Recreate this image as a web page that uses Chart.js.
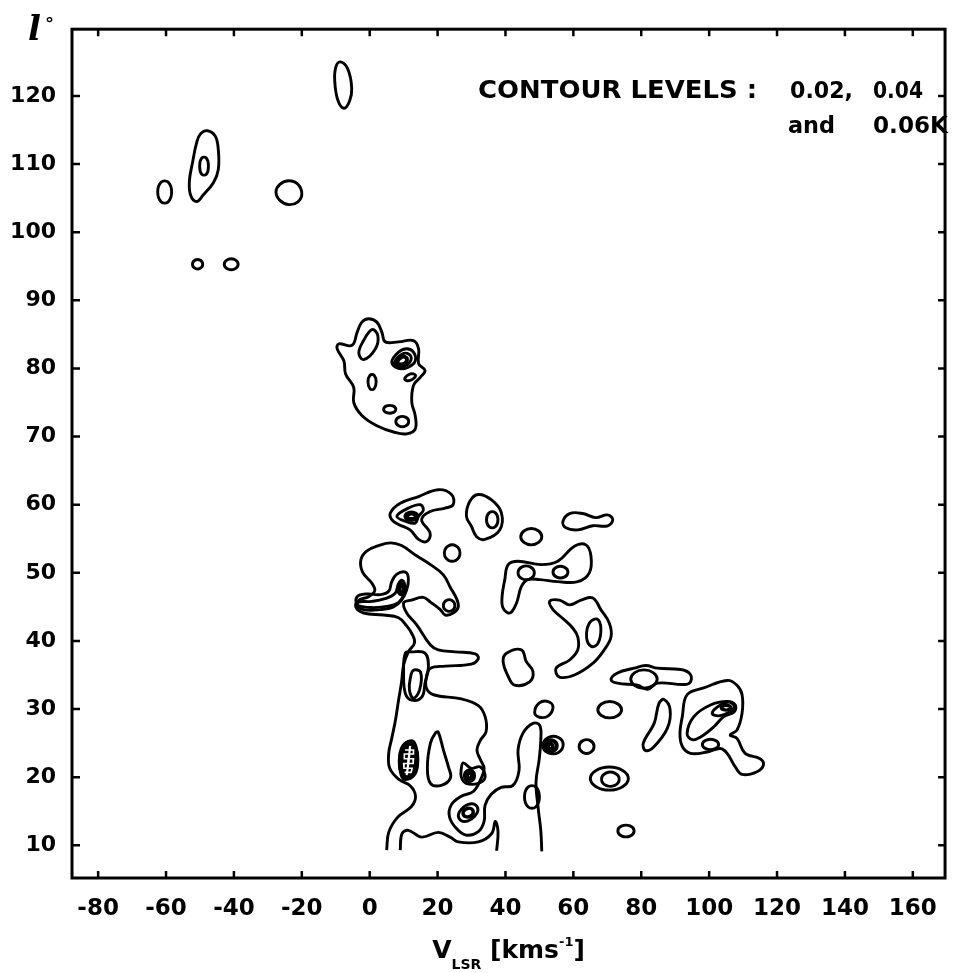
<!DOCTYPE html>
<html>
<head>
<meta charset="utf-8">
<script src="https://cdn.jsdelivr.net/npm/chart.js@4.4.1/dist/chart.umd.min.js"></script>
<style>
html, body { margin: 0; padding: 0; background: #fff; }
</style>
</head>
<body>
<canvas id="c" width="954" height="973"></canvas>
<script>
// ===== axes =====
const V_TICKS = [-80, -60, -40, -20, 0, 20, 40, 60, 80, 100, 120, 140, 160];
const L_TICKS = [10, 20, 30, 40, 50, 60, 70, 80, 90, 100, 110, 120];
const V_RANGE = [-87.7, 169.5];
const L_RANGE = [5.2, 129.8];

// ===== contours, [v, l] =====
const topLoop = [[-8.7,125.0],[-6.5,124.0],[-5.3,121.2],[-5.9,119.3],[-7.6,118.2],[-9.4,119.4],[-10.3,122.2],[-10.0,124.2]];
const farLeftLoop = [[-58.35,105.9],[-59.4,107.36],[-61.4,107.36],[-62.45,105.9],[-61.4,104.44],[-59.4,104.44]];
const pairOuter = [[-47.8,114.9],[-45.5,114.1],[-44.6,112.1],[-44.6,109.2],[-46.0,107.3],[-49.0,105.5],[-51.0,104.5],[-52.8,105.5],[-53.1,107.6],[-52.2,110.2],[-51.0,113.1],[-49.9,114.4]];
const pairInner = [[-47.5,109.7],[-48.15,110.9],[-49.45,110.9],[-50.1,109.7],[-49.45,108.5],[-48.15,108.5]];
const roundLoop = [[-20.0,105.6],[-21.14,107.03],[-23.8,107.55],[-26.46,107.03],[-27.6,105.9],[-26.46,104.67],[-23.8,104.05],[-21.14,104.47]];
const dotA = [[-49.2,95.3],[-49.95,95.9],[-51.45,95.9],[-52.2,95.3],[-51.45,94.7],[-49.95,94.7]];
const dotB = [[-38.75,95.3],[-39.8,96.0],[-41.8,96.0],[-42.85,95.3],[-41.8,94.6],[-39.8,94.6]];

const c80Outer = [[-0.3,87.3],[2.1,86.8],[3.6,85.3],[4.6,83.9],[8.5,83.9],[12.9,84.1],[14.4,82.9],[14.4,80.7],[16.3,79.7],[14.9,78.7],[12.9,77.5],[12.4,75.0],[13.4,73.1],[13.4,71.1],[10.9,70.4],[7.5,70.6],[2.1,71.6],[-2.3,73.1],[-4.7,75.0],[-4.7,77.2],[-7.1,79.2],[-7.6,81.1],[-9.6,82.9],[-9.1,83.6],[-5.2,83.4],[-3.7,85.3],[-2.3,86.8]];
const c80Inner = [[0.7,85.7],[2.4,84.8],[1.7,82.9],[-1.8,81.3],[-3.2,82.3],[-1.8,84.1]];
const c80RingA = [[6.5,80.9],[8.5,82.4],[10.9,82.9],[12.9,82.4],[13.4,81.1],[11.4,80.2],[8.5,80.0]];
const c80RingB = [[7.3,80.9],[9.5,82.1],[11.6,82.1],[12.2,81.3],[10.5,80.4],[8.0,80.4]];
const c80RingC = [[8.0,80.9],[9.5,81.7],[10.9,81.5],[10.5,80.8],[8.8,80.6]];
const c80DotA = [[10.3,78.5],[12.0,79.2],[13.5,79.0],[12.6,78.4],[11.1,78.2]];
const c80DotB = [[1.9,78.0],[1.3,79.0],[0.1,79.0],[-0.5,78.0],[0.1,77.0],[1.3,77.0]];
const c80DotC = [[7.7,74.0],[6.8,74.5],[5.0,74.5],[4.1,74.0],[5.0,73.5],[6.8,73.5]];
const c80DotD = [[11.5,72.2],[10.55,72.85],[8.65,72.85],[7.7,72.2],[8.65,71.55],[10.55,71.55]];

const c60Outer = [[6.1,58.8],[9.0,60.2],[14.4,61.2],[20.2,62.2],[24.1,61.5],[24.6,60.0],[22.2,59.5],[17.8,59.0],[15.3,57.8],[17.8,55.8],[16.8,54.6],[14.4,54.9],[11.9,56.3],[8.5,57.1],[6.5,57.8]];
const c60Mid = [[8.0,58.3],[11.4,59.5],[14.9,60.0],[15.8,59.2],[14.4,58.3],[13.4,57.3],[10.9,57.5]];
const c60Core = [[13.9,58.3],[13.1,58.7],[11.5,58.7],[10.7,58.3],[11.5,57.9],[13.1,57.9]];
const c58Outer = [[32.0,61.5],[35.9,60.7],[38.8,58.8],[38.3,56.3],[33.9,54.9],[31.5,55.3],[30.0,56.8],[28.5,58.3],[29.5,60.5]];
const c58Inner = [[37.8,57.8],[36.95,58.84],[35.25,58.84],[34.4,57.8],[35.25,56.76],[36.95,56.76]];
const c55Loop = [[50.7,55.3],[49.77,56.14],[47.6,56.5],[45.43,56.14],[44.5,55.3],[45.43,54.46],[47.6,54.1],[49.77,54.46]];
const c57Streak = [[56.9,57.5],[58.9,58.7],[62.8,58.7],[66.6,58.1],[70.1,58.5],[71.6,57.8],[70.1,56.9],[65.7,56.9],[61.3,56.3],[57.8,56.6]];
const c53Dot = [[26.6,52.9],[25.45,53.94],[23.15,53.94],[22.0,52.9],[23.15,51.86],[25.45,51.86]];

// big open contour running out of the bottom of the map
const mainOutline = [[5.0,9.3],[5.6,11.9],[8.2,14.1],[12.3,15.7],[13.5,17.2],[12.0,18.7],[8.5,19.7],[5.9,21.3],[5.6,23.5],[6.5,25.7],[7.6,28.4],[8.5,31.3],[9.4,34.0],[10.0,36.5],[11.4,38.4],[13.2,39.7],[12.6,40.9],[10.9,42.2],[8.5,43.4],[4.1,43.8],[-1.8,44.1],[-4.1,45.0],[-3.2,46.0],[-0.3,46.5],[1.5,47.4],[0.6,48.5],[-2.1,50.1],[-2.6,51.9],[-0.9,53.2],[2.6,54.0],[6.2,54.4],[9.4,54.0],[13.8,52.5],[17.9,51.2],[21.7,49.7],[23.8,47.8],[25.5,46.3],[26.1,45.0],[24.6,44.1],[22.3,43.8],[20.8,44.6],[17.9,45.7],[15.8,46.4],[12.3,46.0],[10.0,45.6],[10.9,44.1],[13.8,42.4],[17.9,39.4],[20.2,38.7],[25.2,38.4],[31.1,38.1],[32.0,37.4],[29.9,36.6],[22.3,36.3],[17.9,36.0],[16.7,34.7],[16.7,33.1],[18.8,32.1],[27.0,31.5],[32.0,30.5],[34.0,28.9],[34.3,26.7],[32.6,25.4],[31.6,24.0],[32.6,22.6],[33.7,21.3],[32.8,19.8],[30.5,17.9],[27.0,17.2],[24.0,15.9],[23.5,14.2],[25.5,12.5],[28.4,11.5],[32.0,12.0],[33.7,13.5],[34.0,15.9],[35.8,17.5],[38.7,18.5],[42.2,18.8],[44.0,21.0],[43.7,24.0],[45.2,26.5],[48.1,27.9],[50.1,27.6],[50.4,25.4],[49.9,22.5],[49.0,19.3],[49.6,15.6],[50.4,12.2],[50.7,9.1]];
const baseWave = [[9.0,9.3],[9.5,11.7],[11.4,12.2],[15.3,11.2],[20.2,11.9],[23.7,11.2],[26.1,10.5],[32.0,10.5],[35.9,11.7],[37.0,13.5],[37.8,12.0],[37.4,9.2]];

const hookMid = [[-3.7,46.5],[-0.8,46.9],[3.1,46.8],[5.6,47.3],[6.5,48.7],[8.0,49.8],[10.5,50.1],[11.4,49.2],[10.9,47.5],[9.4,46.0],[7.0,45.0],[3.1,44.6],[-1.8,44.6],[-3.7,45.3]];
const hookIn = [[-3.4,45.7],[0.5,45.8],[4.5,46.2],[7.5,47.0],[8.5,48.4],[9.6,48.9],[10.3,48.2],[10.0,46.8],[8.6,45.7],[5.5,45.1],[0.5,44.9],[-3.4,45.2]];
const hookCore = [[10.2,47.6],[9.8,48.2],[9.0,48.2],[8.6,47.6],[9.0,47.0],[9.8,47.0]];
const c45Core = [[25.1,45.2],[24.25,45.94],[22.55,45.94],[21.7,45.2],[22.55,44.46],[24.25,44.46]];
const c35Outer = [[10.5,38.2],[12.4,38.4],[16.3,38.2],[17.3,36.2],[16.3,33.8],[15.4,31.8],[12.4,31.3],[10.5,32.3],[10.0,35.3]];
const c35Inner = [[12.9,35.7],[15.0,35.4],[14.7,32.8],[12.9,31.6],[11.7,32.8],[12.0,34.6]];

const hatchOuter = [[12.4,25.35],[13.6,24.6],[14.2,22.7],[13.4,20.5],[10.5,19.65],[9.2,20.4],[8.7,22.3],[9.6,24.5]];
const hatchRing = [[12.21,24.78],[13.17,24.18],[13.65,22.66],[13.01,20.9],[10.69,20.22],[9.65,20.82],[9.25,22.34],[9.97,24.1]];
const hatchMid = [[11.99,24.21],[12.7,23.76],[13.06,22.62],[12.58,21.3],[10.85,20.79],[10.07,21.24],[9.77,22.38],[10.31,23.7]];
const hatchSpine = [[11.9,24.6],[11.6,23.0],[11.2,21.4],[10.9,20.3]];
const hatchTeeth = [[10.4,24.0],[12.9,24.0],[12.9,23.4],[10.2,23.4],[10.2,22.7],[12.9,22.7],[12.8,22.0],[10.0,22.0],[10.1,21.3],[12.5,21.3],[12.2,20.7],[10.3,20.7]];
const tallLoop = [[20.2,26.6],[21.7,24.0],[23.2,21.5],[23.8,19.9],[21.1,18.8],[17.9,19.1],[17.0,21.5],[17.9,25.0],[19.4,26.5]];
const c21Outer = [[27.6,22.1],[29.9,21.3],[32.6,21.5],[34.0,20.0],[32.0,19.1],[28.4,19.1],[27.0,20.0],[27.0,21.3]];
const c21Mid = [[30.9,20.2],[30.15,20.94],[28.65,20.94],[27.9,20.2],[28.65,19.46],[30.15,19.46]];
const c21Core = [[30.1,20.2],[29.75,20.55],[29.05,20.55],[28.7,20.2],[29.05,19.85],[29.75,19.85]];
const c15Outer = [[31.9,15.2],[31.0,16.0],[29.0,16.0],[27.0,15.3],[26.1,14.4],[27.0,13.6],[29.0,13.6],[31.0,14.3]];
const c15Inner = [[30.5,14.9],[29.75,15.4],[28.25,15.3],[27.5,14.7],[28.25,14.2],[29.75,14.3]];
const fingerDot = [[50.0,17.1],[48.9,18.58],[46.7,18.58],[45.6,17.1],[46.7,15.62],[48.9,15.62]];

const c50Outer = [[39.8,49.0],[40.8,51.2],[43.7,51.7],[50.5,51.2],[55.4,51.7],[60.3,53.9],[63.7,54.1],[65.2,52.4],[64.7,50.0],[61.3,48.7],[55.4,48.7],[50.1,49.0],[46.6,49.0],[44.7,48.0],[43.2,45.5],[41.3,44.1],[39.3,44.8],[39.0,46.5]];
const c50InL = [[48.5,50.0],[47.3,50.87],[44.9,50.87],[43.7,50.0],[44.9,49.13],[47.3,49.13]];
const c50InR = [[58.4,50.1],[57.3,50.84],[55.1,50.84],[54.0,50.1],[55.1,49.36],[57.3,49.36]];
const bootLoop = [[53.0,45.8],[55.9,46.0],[58.9,45.3],[62.3,46.0],[65.7,46.3],[68.1,44.6],[70.6,42.6],[71.1,40.6],[69.1,38.7],[65.7,36.7],[60.3,35.0],[55.9,34.7],[54.9,36.0],[58.9,37.2],[61.3,38.7],[61.3,40.6],[59.8,41.9],[56.9,43.3],[54.0,44.6]];
const bootInner = [[67.0,43.2],[68.1,41.8],[67.2,39.6],[65.3,39.2],[63.9,40.5],[64.7,42.6]];
const c37Blob = [[40.3,38.2],[44.7,38.7],[46.1,37.0],[48.1,35.5],[47.1,34.0],[42.7,33.5],[40.8,34.8],[39.3,37.0]];
const c30DotA = [[54.0,30.3],[52.6,31.1],[50.0,30.9],[48.6,29.5],[50.0,28.8],[52.6,29.0]];
const c25Outer = [[57.0,24.8],[55.5,25.85],[52.5,25.8],[51.0,24.6],[52.5,23.6],[55.5,23.6]];
const c25Mid = [[55.1,24.6],[54.25,25.3],[52.55,25.3],[51.7,24.6],[52.55,23.9],[54.25,23.9]];
const c25Core = [[53.9,24.5],[53.55,24.85],[52.85,24.85],[52.5,24.5],[52.85,24.15],[53.55,24.15]];
const c25Dot = [[66.1,24.5],[65.0,25.37],[62.8,25.37],[61.7,24.5],[62.8,23.63],[65.0,23.63]];
const c30DotB = [[74.2,29.9],[73.15,30.74],[70.7,31.1],[68.25,30.74],[67.2,29.9],[68.25,29.06],[70.7,28.7],[73.15,29.06]];
const c20Outer = [[76.2,19.8],[74.52,20.99],[70.6,21.5],[66.68,20.99],[65.0,19.8],[66.68,18.61],[70.6,18.1],[74.52,18.61]];
const c20Inner = [[73.5,19.7],[72.2,20.6],[69.6,20.6],[68.3,19.7],[69.6,18.8],[72.2,18.8]];
const c12Dot = [[77.9,12.1],[76.7,12.84],[74.3,12.84],[73.1,12.1],[74.3,11.36],[76.7,11.36]];

const c35Long = [[71.1,34.3],[73.0,35.3],[77.9,36.0],[81.3,36.4],[84.8,36.0],[91.6,35.8],[94.3,35.2],[94.5,34.0],[92.6,33.6],[84.8,33.8],[81.8,32.9],[78.9,33.5],[73.0,33.8]];
const c35LongIn = [[84.7,34.4],[83.53,35.35],[80.8,35.75],[78.07,35.35],[76.9,34.4],[78.07,33.45],[80.8,33.05],[83.53,33.45]];
const c27Streak = [[86.7,31.4],[88.5,29.9],[87.7,27.2],[83.8,24.5],[81.3,23.9],[80.6,25.0],[83.8,27.9],[85.2,30.8]];
const c28Outer = [[93.5,32.1],[98.4,33.1],[105.3,34.2],[108.2,33.5],[109.7,32.1],[109.7,29.4],[108.2,26.9],[106.2,26.2],[108.2,25.7],[110.6,23.5],[115.0,22.7],[116.0,21.8],[114.1,20.8],[109.7,20.4],[107.7,21.5],[105.3,23.5],[103.3,24.2],[99.4,23.7],[94.5,23.5],[92.1,24.5],[91.4,26.4],[92.1,28.9]];
const c28Mid = [[93.5,26.4],[95.5,28.9],[100.4,30.6],[105.3,31.1],[107.7,30.6],[107.4,29.6],[104.3,28.9],[101.4,27.4],[97.5,25.9],[95.1,25.5]];
const c28In = [[100.9,29.4],[103.3,30.6],[106.2,31.0],[107.4,30.3],[106.2,29.6],[102.8,29.0]];
const c28Core = [[106.4,30.2],[105.7,30.5],[104.3,30.5],[103.6,30.2],[104.3,29.9],[105.7,29.9]];
const c25DotR = [[102.8,24.8],[101.6,25.45],[99.2,25.45],[98.0,24.8],[99.2,24.15],[101.6,24.15]];

// [points, closed, width, colour]
const CONTOURS = [
    [topLoop, true], [farLeftLoop, true], [pairOuter, true], [pairInner, true], [roundLoop, true], [dotA, true], [dotB, true],
    [c80Outer, true], [c80Inner, true], [c80RingA, true], [c80RingB, true], [c80RingC, true, 4], [c80DotA, true], [c80DotB, true], [c80DotC, true], [c80DotD, true],
    [c60Outer, true], [c60Mid, true], [c60Core, true, 5], [c58Outer, true], [c58Inner, true], [c55Loop, true], [c57Streak, true], [c53Dot, true],
    [mainOutline, false], [baseWave, false],
    [hookMid, true], [hookIn, true], [hookCore, true, 5], [c45Core, true], [c35Outer, true], [c35Inner, true],
    [hatchOuter, true], [hatchRing, true, 6], [hatchMid, true, 9],
    [hatchSpine, false, 2.2, '#fff'], [hatchTeeth, false, 1.6, '#fff'],
    [tallLoop, true], [c21Outer, true], [c21Mid, true], [c21Core, true, 4], [c15Outer, true], [c15Inner, true, 3.4], [fingerDot, true],
    [c50Outer, true], [c50InL, true], [c50InR, true], [bootLoop, true], [bootInner, true], [c37Blob, true], [c30DotA, true],
    [c25Outer, true], [c25Mid, true, 4], [c25Core, true, 4], [c25Dot, true], [c30DotB, true], [c20Outer, true], [c20Inner, true], [c12Dot, true],
    [c35Long, true], [c35LongIn, true], [c27Streak, true], [c28Outer, true], [c28Mid, true], [c28In, true], [c28Core, true, 3.4], [c25DotR, true],
];

const datasets = CONTOURS.map(([pts, closed, width, colour]) => ({
    data: pts.map(([x, y]) => ({ x, y })),
    closed,
    borderColor: colour || '#000',
    borderWidth: width || 2.9,
    tension: colour ? 0 : 0.4,
    order: colour ? -1 : 0,   // white marks go on top
    pointRadius: 0,
    fill: false,
}));

// make the line element wrap round for closed contours
const closeLoops = {
    id: 'closeLoops',
    afterDatasetsUpdate(chart) {
        chart.data.datasets.forEach((ds, i) => {
            if (!ds.closed) return;
            const line = chart.getDatasetMeta(i).dataset;
            if (!line) return;
            line._loop = true;
            line._fullLoop = true;
            line._pointsUpdated = false;
            line._segments = undefined;
            line._path = undefined;
        });
    }
};

function fitText(ctx, s, x, y, w) {
    const m = ctx.measureText(s).width;
    ctx.save();
    ctx.translate(x, y);
    ctx.scale(w / m, 1);
    ctx.fillText(s, 0, 0);
    ctx.restore();
}

const framePlugin = {
    id: 'frame',
    afterDatasetsDraw(chart) {
        const { ctx, chartArea: a, scales: { x, y } } = chart;
        ctx.save();
        ctx.strokeStyle = '#000';
        ctx.fillStyle = '#000';
        ctx.lineWidth = 3;
        ctx.strokeRect(a.left, a.top, a.right - a.left, a.bottom - a.top);
        ctx.lineWidth = 2.5;
        ctx.beginPath();
        V_TICKS.forEach(v => {
            const px = x.getPixelForValue(v);
            ctx.moveTo(px, a.bottom); ctx.lineTo(px, a.bottom - 7);
            ctx.moveTo(px, a.top); ctx.lineTo(px, a.top + 7);
        });
        L_TICKS.forEach(l => {
            const py = y.getPixelForValue(l);
            ctx.moveTo(a.left, py); ctx.lineTo(a.left + 8, py);
            ctx.moveTo(a.right, py); ctx.lineTo(a.right - 7, py);
        });
        ctx.stroke();

        // l° corner label
        ctx.textBaseline = 'alphabetic';
        ctx.textAlign = 'left';
        ctx.font = 'italic bold 34px "DejaVu Serif"';
        ctx.fillText('l', a.left - 44, a.top + 11);
        ctx.font = 'bold 18px "DejaVu Sans"';
        ctx.fillText('°', a.left - 27, a.top + 1);

        // contour levels note
        ctx.font = 'bold 25px "DejaVu Sans"';
        fitText(ctx, 'CONTOUR LEVELS :', a.left + 406, a.top + 69, 279);
        ctx.font = 'bold 23px "DejaVu Sans"';
        fitText(ctx, '0.02,', a.left + 718, a.top + 69, 63);
        fitText(ctx, '0.04', a.left + 801, a.top + 69, 50);
        fitText(ctx, 'and', a.left + 716, a.top + 104, 47);
        fitText(ctx, '0.06K', a.left + 801, a.top + 104, 75);

        // axis title V_LSR [kms^-1]
        const cx = (a.left + a.right) / 2;
        const base = a.bottom + 80;
        const parts = [
            ['V', 'bold 25px "DejaVu Sans"', 0],
            ['LSR', 'bold 14px "DejaVu Sans"', 11],
            [' [kms', 'bold 25px "DejaVu Sans"', 0],
            ['-1', 'bold 13px "DejaVu Sans"', -12],
            [']', 'bold 25px "DejaVu Sans"', 0],
        ];
        let total = 0;
        parts.forEach(([s, f]) => { ctx.font = f; total += ctx.measureText(s).width; });
        let px = cx - total / 2;
        parts.forEach(([s, f, dy]) => {
            ctx.font = f;
            ctx.fillText(s, px, base + dy);
            px += ctx.measureText(s).width;
        });
        ctx.restore();
    }
};

const tickFont = { family: 'DejaVu Sans', weight: 'bold', size: 23 };

new Chart(document.getElementById('c'), {
    type: 'line',
    data: { datasets },
    options: {
        responsive: false,
        animation: false,
        events: [],
        layout: { padding: { top: 26, right: 5, left: 0, bottom: 0 } },
        plugins: { legend: { display: false }, tooltip: { enabled: false } },
        elements: { line: { capBezierPoints: false } },
        scales: {
            x: {
                type: 'linear',
                min: V_RANGE[0],
                max: V_RANGE[1],
                grid: { display: false, drawTicks: false },
                border: { display: false },
                afterBuildTicks: s => { s.ticks = V_TICKS.map(value => ({ value })); },
                afterFit: s => { s.height = 95; },
                ticks: { color: '#000', font: tickFont, padding: 17, maxRotation: 0, autoSkip: false, callback: v => String(v) }
            },
            y: {
                type: 'linear',
                min: L_RANGE[0],
                max: L_RANGE[1],
                grid: { display: false, drawTicks: false },
                border: { display: false },
                afterBuildTicks: s => { s.ticks = L_TICKS.map(value => ({ value })); },
                afterFit: s => { s.width = 72; },
                ticks: { color: '#000', font: { family: 'DejaVu Sans', weight: 'bold', size: 22 }, padding: 16, autoSkip: false, callback: v => String(v) }
            }
        }
    },
    plugins: [closeLoops, framePlugin]
});
</script>
</body>
</html>
